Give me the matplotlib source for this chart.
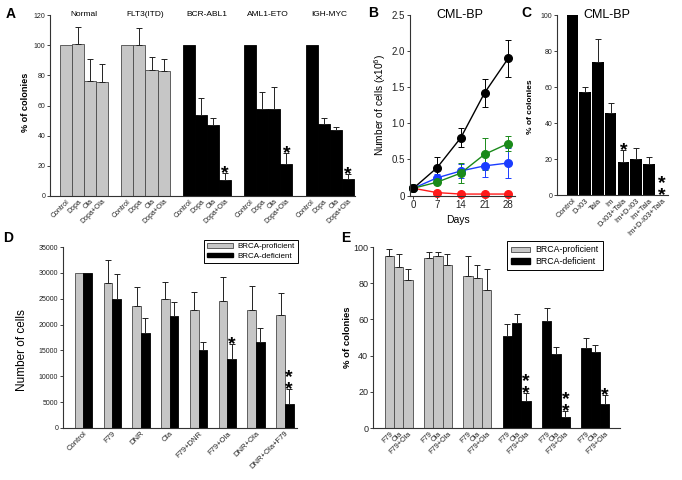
import numpy as np
import matplotlib
matplotlib.use('Agg')
import matplotlib.pyplot as plt
from matplotlib.patches import Patch

plt.rcParams['font.family'] = ['Liberation Sans', 'DejaVu Sans']

# Panel A: colony formation per leukemia type
a_groups = ['Normal', 'FLT3(ITD)', 'BCR-ABL1', 'AML1-ETO', 'IGH-MYC']
a_treatments = ['Control', 'Dopa', 'Ola', 'Dopa+Ola']
a_values = [[100, 101, 76, 75.5],
            [100, 100, 83.5, 83],
            [100, 54, 47, 10.5],
            [100, 58, 58, 21.5],
            [100, 48, 44, 11.5]]
a_errors = [[0, 11, 14.5, 12],
            [0, 11.5, 8.5, 7.5],
            [0, 11, 4.5, 5],
            [0, 11, 14, 7],
            [0, 3.5, 2, 3]]
a_stars = [[0, 0, 0, 0], [0, 0, 0, 0], [0, 0, 0, 1], [0, 0, 0, 1], [0, 0, 0, 1]]

# Panel B: growth curves (x10^6 cells)
b_days = [0, 7, 14, 21, 28]
b_red = [0.1, 0.04, 0.02, 0.02, 0.02]
b_red_err = [0, 0, 0, 0, 0]
b_blue = [0.1, 0.245, 0.34, 0.41, 0.45]
b_blue_err = [0, 0.05, 0.1, 0.15, 0.21]
b_green = [0.1, 0.185, 0.31, 0.57, 0.72]
b_green_err = [0, 0.03, 0.14, 0.22, 0.1]
b_black = [0.1, 0.385, 0.80, 1.42, 1.90]
b_black_err = [0, 0.145, 0.13, 0.2, 0.26]

# Panel C
c_labels = ['Control', 'D-I03', 'Tala', 'Im', 'D-I03+Tala', 'Im+D-I03', 'Im+Tala', 'Im+D-I03+Tala']
c_values = [100, 57, 74, 45.5, 18.5, 20, 17.5, 0]
c_errors = [0, 3, 12.5, 5.5, 6.3, 6.3, 3.5, 0]
c_stars = [0, 0, 0, 0, 1, 0, 0, 2]

# Panel D
d_labels = ['Control', 'F79', 'DNR', 'Ola', 'F79+DNR', 'F79+Ola', 'DNR+Ola', 'DNR+Ola+F79']
d_prof = [30000, 28100, 23500, 24900, 22900, 24600, 22800, 21900]
d_prof_err = [0, 4450, 3700, 3350, 3400, 4650, 4650, 4200]
d_def = [30000, 24900, 18300, 21600, 15000, 13300, 16600, 4700]
d_def_err = [0, 4950, 2900, 2800, 1650, 2900, 2800, 2900]
d_def_stars = [0, 0, 0, 0, 0, 1, 0, 2]

# Panel E
e_treatments = ['F79', 'Ola', 'F79+Ola']
e_values = [[95, 89, 82], [94, 95, 90], [84, 83, 76],
            [51, 58, 15], [59, 41, 6], [44, 42, 13]]
e_errors = [[4, 7, 5.8], [3, 2, 6], [11, 7, 11.8],
            [6.3, 5, 4.3], [7.2, 4, 3.2], [6, 4, 5.2]]
e_deficient = [False, False, False, True, True, True]
e_stars = [[0, 0, 0], [0, 0, 0], [0, 0, 0], [0, 0, 2], [0, 0, 2], [0, 0, 1]]

W, H = 682, 480
GRAY = '#c6c6c6'
EDGE = '#4a4a4a'
STAR_FS = 14


def px_axes(fig, left, top, right, bottom):
    return fig.add_axes([left / W, 1 - bottom / H, (right - left) / W, (bottom - top) / H])


def style(ax, size=5):
    for s in ['top', 'right']:
        ax.spines[s].set_visible(False)
    for s in ['left', 'bottom']:
        ax.spines[s].set_linewidth(0.8)
        ax.spines[s].set_color('#333333')
    ax.tick_params(axis='both', labelsize=size, length=2, width=0.6, pad=1.5,
                   colors='#222222')
    ax.tick_params(axis='x', length=0)


def up_errors(ax, x, y, err, color='#222222'):
    x, y, err = np.asarray(x, float), np.asarray(y, float), np.asarray(err, float)
    m = err > 0
    ax.errorbar(x[m], y[m], yerr=[np.zeros(m.sum()), err[m]], fmt='none',
                ecolor=color, elinewidth=0.7, capsize=2.2, capthick=0.7)


def stars(ax, x, top, n):
    # one text per bar; stacked asterisks sit a few pixels above the error bar
    if n == 0:
        return
    ax.annotate('\n'.join(['*'] * n), (x, top), xytext=(0, 4.5 - 0.785 * STAR_FS),
                textcoords='offset points', ha='center', va='bottom',
                fontsize=STAR_FS, fontweight='bold', linespacing=0.6,
                annotation_clip=False)


def fig_text(x, y, s, **kw):
    fig.text(x / W, 1 - y / H, s, ha='center', va='center', **kw)


fig = plt.figure(figsize=(W / 100, H / 100), dpi=100)

# ---------- A ----------
ax = px_axes(fig, 50, 15, 355, 196)
style(ax)
xt, xl = [], []
for i, (grp, vals, errs, st) in enumerate(zip(a_groups, a_values, a_errors, a_stars)):
    x = i * 5.1 + np.arange(4)
    black = i >= 2
    ax.bar(x, vals, width=1, color='black' if black else GRAY,
           edgecolor='black' if black else EDGE, linewidth=0.6)
    up_errors(ax, x, vals, errs)
    for xi, v, e, n in zip(x, vals, errs, st):
        stars(ax, xi, v + e, n)
    ax.text(x.mean(), 120, grp, ha='center', va='center', fontsize=6)
    xt += list(x)
    xl += a_treatments
ax.set_xticks(xt)
ax.set_xticklabels(xl, rotation=45, ha='right', rotation_mode='anchor')
ax.set_xlim(-1.33, 24.0)
ax.set_ylim(0, 120)
ax.set_yticks(range(0, 121, 20))
fig_text(25, 102, '% of colonies', rotation=90, fontsize=6.6, fontweight='bold')
fig_text(11, 14, 'A', fontsize=10, fontweight='bold')

# ---------- B ----------
ax = px_axes(fig, 410, 15, 515, 195.5)
style(ax, 7)
ax.tick_params(axis='x', length=2)
for vals, errs, col in [(b_red, b_red_err, '#ff1a1a'), (b_blue, b_blue_err, '#1a3cff'),
                        (b_green, b_green_err, '#1a8a1a'), (b_black, b_black_err, 'black')]:
    ax.errorbar(b_days, vals, yerr=errs, color=col, marker='o', markersize=5.5,
                linewidth=1, elinewidth=0.7, capsize=2.2, capthick=0.7, clip_on=False)
ax.set_xlim(-1, 30)
ax.set_ylim(0, 2.5)
ax.set_xticks(b_days)
ax.set_yticks([0, 0.5, 1.0, 1.5, 2.0, 2.5])
ax.set_yticklabels(['0', '0.5', '1.0', '1.5', '2.0', '2.5'])
fig_text(460, 15, 'CML-BP', fontsize=9)
fig_text(458, 220, 'Days', fontsize=7.5)
fig_text(380, 105, 'Number of cells (x10$^6$)', rotation=90, fontsize=7.3)
fig_text(373, 13, 'B', fontsize=10, fontweight='bold')

# ---------- C ----------
ax = px_axes(fig, 557, 15, 668, 195)
style(ax)
xc = np.arange(len(c_labels))
ax.bar(xc, c_values, width=0.9, color='black')
up_errors(ax, xc, c_values, c_errors)
for xi, v, e, n in zip(xc, c_values, c_errors, c_stars):
    stars(ax, xi, v + e, n)
ax.set_xticks(xc)
ax.set_xticklabels(c_labels, rotation=45, ha='right', rotation_mode='anchor', fontsize=5.5)
ax.set_xlim(-1.2, 7.5)
ax.set_ylim(0, 100)
ax.set_yticks(range(0, 101, 20))
fig_text(607, 15, 'CML-BP', fontsize=9)
fig_text(530, 107, '% of colonies', rotation=90, fontsize=6, fontweight='bold')
fig_text(526, 13, 'C', fontsize=10, fontweight='bold')

# ---------- D ----------
ax = px_axes(fig, 63, 247, 297, 428)
style(ax)
xd = np.arange(len(d_labels))
ax.bar(xd - 0.15, d_prof, width=0.3, color=GRAY, edgecolor=EDGE, linewidth=0.6)
ax.bar(xd + 0.15, d_def, width=0.3, color='black', edgecolor='black', linewidth=0.6)
up_errors(ax, xd - 0.15, d_prof, d_prof_err)
up_errors(ax, xd + 0.15, d_def, d_def_err)
for xi, v, e, n in zip(xd + 0.15, d_def, d_def_err, d_def_stars):
    stars(ax, xi, v + e, n)
ax.set_xticks(xd)
ax.set_xticklabels(d_labels, rotation=45, ha='right', rotation_mode='anchor', fontsize=5.5)
ax.set_xlim(-0.71, 7.42)
ax.set_ylim(0, 35000)
ax.set_yticks(range(0, 35001, 5000))
handles = [Patch(facecolor=GRAY, edgecolor=EDGE, linewidth=0.6, label='BRCA-proficient'),
           Patch(facecolor='black', edgecolor='black', label='BRCA-deficient')]
leg = ax.legend(handles=handles, loc='upper right', bbox_to_anchor=(298 / W, 1 - 240 / H),
                bbox_transform=fig.transFigure, fontsize=5.8, fancybox=False,
                edgecolor='black', framealpha=1, handlelength=3.2, handleheight=0.55,
                borderaxespad=0, borderpad=0.4, labelspacing=0.25, handletextpad=0.6)
leg.get_frame().set_linewidth(0.7)
fig_text(22, 350, 'Number of cells', rotation=90, fontsize=8.5)
fig_text(8, 238, 'D', fontsize=10, fontweight='bold')

# ---------- E ----------
ax = px_axes(fig, 373, 247, 620, 428)
style(ax, 6.5)
xt, xl = [], []
for i, (vals, errs, deficient, st) in enumerate(zip(e_values, e_errors, e_deficient, e_stars)):
    x = i * 4.2 + np.arange(3)
    ax.bar(x, vals, width=1, color='black' if deficient else GRAY,
           edgecolor='black' if deficient else EDGE, linewidth=0.6)
    up_errors(ax, x, vals, errs)
    for xi, v, e, n in zip(x, vals, errs, st):
        stars(ax, xi, v + e, n)
    xt += list(x)
    xl += e_treatments
ax.set_xticks(xt)
ax.set_xticklabels(xl, rotation=45, ha='right', rotation_mode='anchor', fontsize=5.3)
ax.set_xlim(-1.76, 24.65)
ax.set_ylim(0, 100)
ax.set_yticks(range(0, 101, 20))
handles = [Patch(facecolor=GRAY, edgecolor=EDGE, linewidth=0.6, label='BRCA-proficient'),
           Patch(facecolor='black', edgecolor='black', label='BRCA-deficient')]
leg = ax.legend(handles=handles, loc='upper right', bbox_to_anchor=(603 / W, 1 - 241 / H),
                bbox_transform=fig.transFigure, fontsize=6.3, fancybox=False,
                edgecolor='black', framealpha=1, handlelength=2.2, handleheight=0.55,
                borderaxespad=0, borderpad=0.5, labelspacing=0.3, handletextpad=0.6)
leg.get_frame().set_linewidth(0.7)
fig_text(347, 337, '% of colonies', rotation=90, fontsize=6.8, fontweight='bold')
fig_text(346, 238, 'E', fontsize=10, fontweight='bold')

fig.savefig('out.png', dpi=100)
